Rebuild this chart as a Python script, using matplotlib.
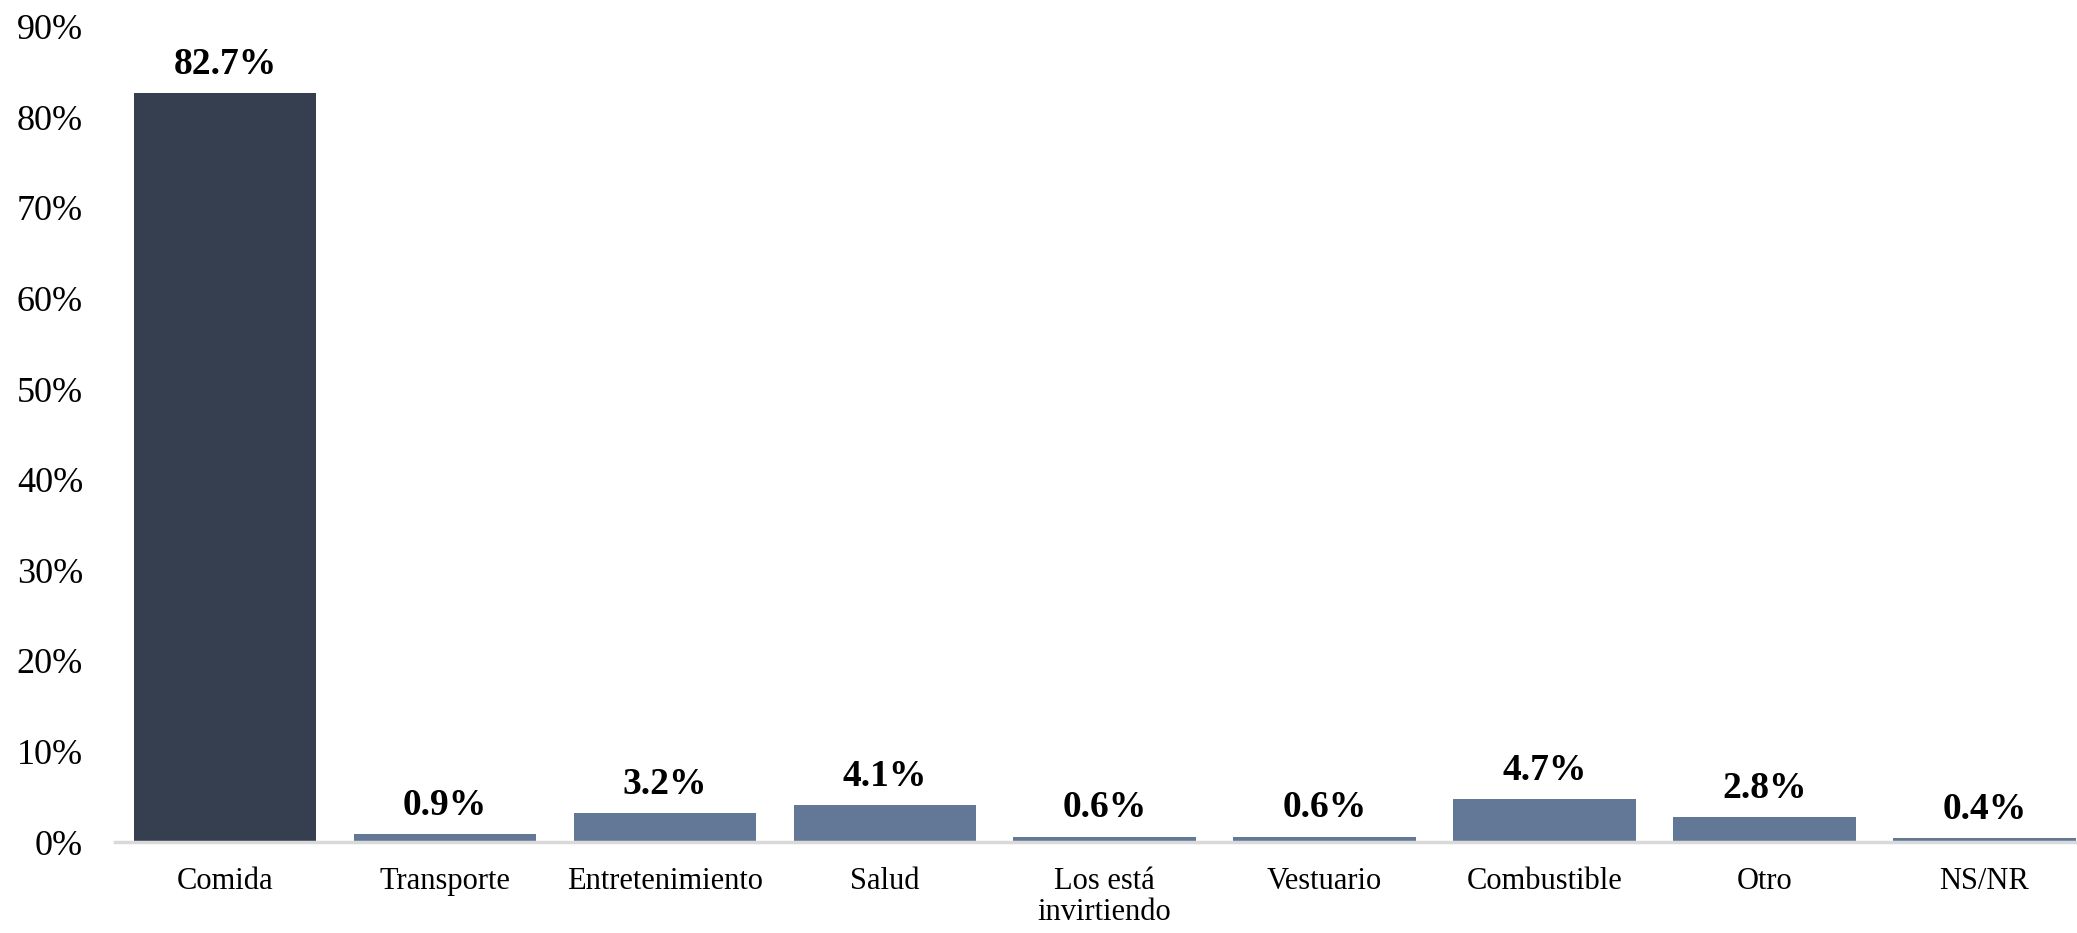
import matplotlib.pyplot as plt
from matplotlib.ticker import PercentFormatter

# Datos
categorias = ['Comida', 'Transporte', 'Entretenimiento', 'Salud', 'Los está\ninvirtiendo',
              'Vestuario', 'Combustible', 'Otro', 'NS/NR']
valores = [82.7, 0.9, 3.2, 4.1, 0.6, 0.6, 4.7, 2.8, 0.4]
colores = ['#353f50'] + ['#627896'] * 8

plt.rcParams['font.family'] = ['Liberation Serif', 'DejaVu Serif']

fig = plt.figure(figsize=(20.77, 9.33), dpi=100)
ax = fig.add_axes([0.0554, 0.0975, 0.953, 0.874])

x = range(len(categorias))
barras = ax.bar(x, valores, width=0.83, color=colores)

for b, v in zip(barras, valores):
    ax.annotate(f'{v:.1f}%', (b.get_x() + b.get_width() / 2, v),
                xytext=(0, 8), textcoords='offset points',
                ha='center', va='bottom', fontsize=27, fontweight='bold')

ax.set_xlim(-0.5, len(categorias) - 0.5)
ax.set_ylim(0, 90)
ax.set_yticks(range(0, 91, 10))
ax.yaxis.set_major_formatter(PercentFormatter(decimals=0))
ax.set_xticks(list(x))
ax.set_xticklabels(categorias, linespacing=1.1)
ax.tick_params(axis='y', length=0, labelsize=26, pad=23)
ax.tick_params(axis='x', length=0, labelsize=22, pad=18)

for lado in ['top', 'right', 'left']:
    ax.spines[lado].set_visible(False)
ax.spines['bottom'].set_color('#d9d9d9')
ax.spines['bottom'].set_linewidth(2.5)

plt.savefig('out.png', dpi=100)
